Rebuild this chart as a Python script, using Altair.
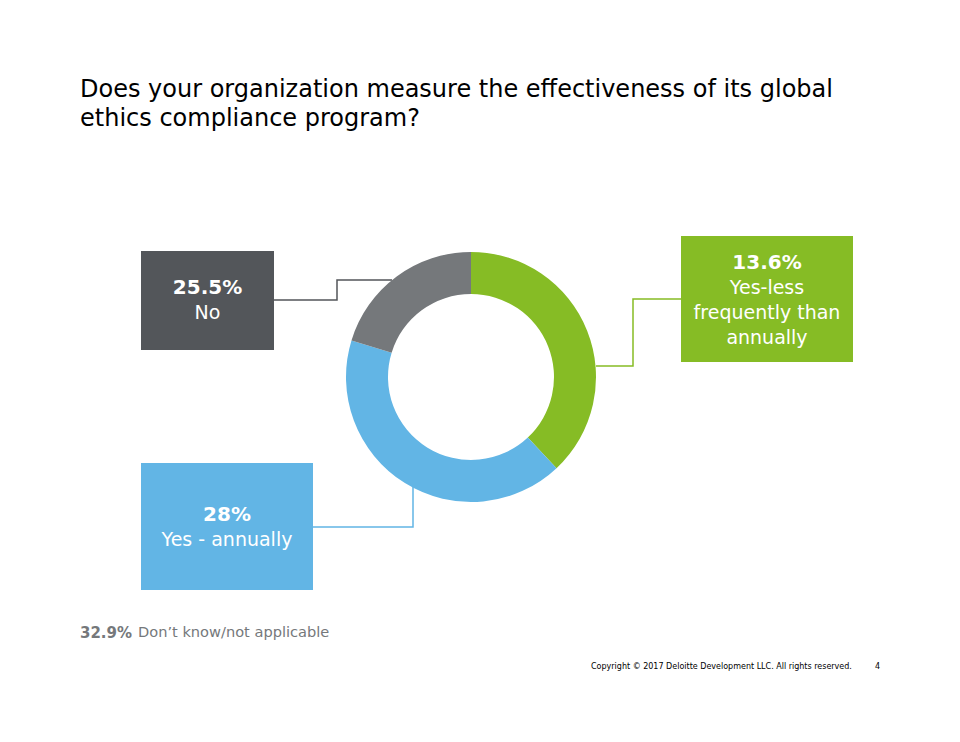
import altair as alt
import pandas as pd

# ---------------- data ----------------
title_lines = ["Does your organization measure the effectiveness of its global",
               "ethics compliance program?"]
categories = ["Yes-less frequently than annually", "Yes - annually", "No"]
# angular size of each slice as drawn in the ring
slice_values = [25.5, 28.0, 13.6]
slice_colors = ["#86BC25", "#62B5E5", "#75787B"]
box_colors = ["#86BC25", "#62B5E5", "#53565A"]
line_colors = ["#86BC25", "#62B5E5", "#53565A"]
box_pcts = ["13.6%", "28%", "25.5%"]
box_lines = [["Yes-less", "frequently than", "annually"], ["Yes - annually"], ["No"]]
note_pct = "32.9%"
note_text = "Don’t know/not applicable"
footer = "Copyright © 2017 Deloitte Development LLC. All rights reserved."
page_no = "4"

# ---------------- layout (page pixel coordinates) ----------------
W, H = 944, 726
FONT = "DejaVu Sans"
XS = alt.Scale(domain=[8, 8 + W])
YS = alt.Scale(domain=[8, 8 + H], reverse=True)
center = (471, 377)
r_outer, r_inner = 125, 83
boxes = [(681, 236, 853, 362), (141, 463, 313, 590), (141, 251, 274, 350)]
box_text_anchor = [(767, 263), (227, 515), (207.5, 288)]
line_gap = 25
paths = [
    [(596, 366), (633, 366), (633, 299), (681, 299)],
    [(413, 487), (413, 527), (313, 527)],
    [(392, 280), (337, 280), (337, 300), (274, 300)],
]


def X(f):
    return alt.X(f, type="quantitative", scale=XS, axis=None)


def Y(f):
    return alt.Y(f, type="quantitative", scale=YS, axis=None)


# donut
donut_df = pd.DataFrame({"cat": categories, "value": slice_values,
                         "color": slice_colors, "order": list(range(len(categories)))})
donut = alt.Chart(donut_df).mark_arc(innerRadius=r_inner, outerRadius=r_outer).encode(
    theta=alt.Theta("value:Q", stack=True),
    color=alt.Color("color:N", scale=None),
    order=alt.Order("order:Q"),
    x=alt.X(datum=center[0], type="quantitative", scale=XS, axis=None),
    y=alt.Y(datum=center[1], type="quantitative", scale=YS, axis=None),
)

# boxes
box_df = pd.DataFrame({
    "cat": categories, "color": box_colors,
    "x0": [b[0] for b in boxes], "y0": [b[1] for b in boxes],
    "x1": [b[2] for b in boxes], "y1": [b[3] for b in boxes],
})
rects = alt.Chart(box_df).mark_rect().encode(
    x=X("x0"), x2="x1", y=Y("y0"), y2="y1",
    color=alt.Color("color:N", scale=None),
)

# connectors
rows = []
for i, p in enumerate(paths):
    for j, (px, py) in enumerate(p):
        rows.append({"path": categories[i], "seq": j, "px": px, "py": py, "color": line_colors[i]})
conn = alt.Chart(pd.DataFrame(rows)).mark_line(strokeWidth=1.5).encode(
    x=X("px"), y=Y("py"),
    detail="path:N", order="seq:Q",
    color=alt.Color("color:N", scale=None),
)

# box texts
pct_df = pd.DataFrame({"t": box_pcts, "x": [a[0] for a in box_text_anchor],
                       "y": [a[1] for a in box_text_anchor]})
pct_text = alt.Chart(pct_df).mark_text(font=FONT, fontSize=20, fontWeight="bold",
                                       color="white", align="center", baseline="middle").encode(
    x=X("x"), y=Y("y"), text="t:N")
lab_rows = []
for i, lines in enumerate(box_lines):
    for k, ln in enumerate(lines):
        lab_rows.append({"t": ln, "x": box_text_anchor[i][0],
                         "y": box_text_anchor[i][1] + line_gap * (k + 1)})
lab_text = alt.Chart(pd.DataFrame(lab_rows)).mark_text(font=FONT, fontSize=19,
                                                       color="white", align="center",
                                                       baseline="middle").encode(
    x=X("x"), y=Y("y"), text="t:N")

# title
title_df = pd.DataFrame({"t": title_lines, "x": [80, 80], "y": [90, 119]})
title = alt.Chart(title_df).mark_text(font=FONT, fontSize=24, color="#000000",
                                      align="left", baseline="middle").encode(
    x=X("x"), y=Y("y"), text="t:N")

# note
note_b = alt.Chart(pd.DataFrame({"t": [note_pct], "x": [80], "y": [633]})).mark_text(
    font=FONT, fontSize=15, fontWeight="bold", color="#75787B", align="left",
    baseline="middle").encode(x=X("x"), y=Y("y"), text="t:N")
note_r = alt.Chart(pd.DataFrame({"t": [note_text], "x": [138], "y": [633]})).mark_text(
    font=FONT, fontSize=14.6, color="#75787B", align="left",
    baseline="middle").encode(x=X("x"), y=Y("y"), text="t:N")

# footer
foot = alt.Chart(pd.DataFrame({"t": [footer, page_no], "x": [591, 875], "y": [667, 667]})).mark_text(
    font=FONT, fontSize=8, color="#000000", align="left", baseline="middle").encode(
    x=X("x"), y=Y("y"), text="t:N")

chart = alt.layer(conn, donut, rects, pct_text, lab_text, title, note_b, note_r, foot).properties(
    width=W, height=H, padding=0, autosize=alt.AutoSizeParams(type="none"),
    background="white",
).configure_view(strokeWidth=0)

chart.save("out.html", embed_options={"renderer": "svg", "actions": False})
